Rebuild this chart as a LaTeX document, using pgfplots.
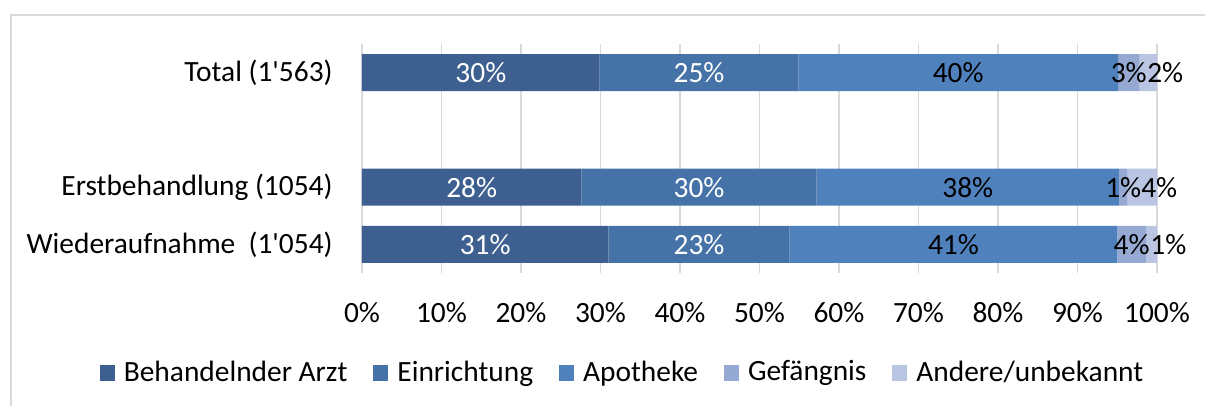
\documentclass[border=0pt]{standalone}
\usepackage{fontspec}
\setmainfont{Carlito}
\usepackage{pgfplots}
\pgfplotsset{compat=1.18}
\definecolor{cA}{HTML}{3D6090}
\definecolor{cB}{HTML}{4573A7}
\definecolor{cC}{HTML}{4F81BD}
\definecolor{cD}{HTML}{95A9D2}
\definecolor{cE}{HTML}{B9C5E3}
\definecolor{gridgray}{HTML}{D9D9D9}
\begin{document}
\fontsize{14.7}{17.6}\selectfont
\begin{tikzpicture}
\useasboundingbox (-181pt,-66.5pt) rectangle (421.5pt,136.5pt);
\draw[gridgray, line width=0.8pt] (-175.5pt,-70pt) -- (-175.5pt,129pt) -- (430pt,129pt);
\begin{axis}[
  at={(0,0)}, anchor=south west,
  scale only axis, width=397.5pt, height=114.5pt,
  xbar stacked, bar width=18.5pt,
  xmin=0, xmax=100, ymin=-0.5, ymax=3.5,
  xtick={0,10,...,100}, ytick={0,1,3},
  yticklabels={Wiederaufnahme\ \ (1\textquotesingle054), Erstbehandlung (1054), Total (1\textquotesingle563)},
  xticklabel={\pgfmathprintnumber{\tick}\%},
  /pgf/number format/assume math mode=true,
  xticklabel style={inner sep=0pt, anchor=north, yshift=-14.5pt},
  yticklabel style={inner sep=0pt, anchor=east, xshift=-14.5pt},
  major tick length=0pt,
  axis line style={draw=none},
  xmajorgrids, grid style={gridgray, line width=0.8pt},
  nodes near coords={\pgfmathprintnumber[fixed,precision=0]{\pgfplotspointmeta}\%},
  every node near coord/.append style={inner sep=0pt},
  legend style={at={(0.329,-0.4367)}, anchor=center, draw=none, fill=none,
    legend columns=5,
    /tikz/every odd column/.append style={column sep=2.5pt},
    /tikz/every even column/.append style={column sep=11pt}},
  legend image code/.code={\fill[#1] (0pt,-3.75pt) rectangle (7.5pt,4pt);},
  clip=false,
]
\addplot[fill=cA, draw=none, every node near coord/.append style={white}] coordinates {(31.0,0) (27.6,1) (29.9,3)};
\addplot[fill=cB, draw=none, every node near coord/.append style={white}] coordinates {(22.8,0) (29.6,1) (25.0,3)};
\addplot[fill=cC, draw=none, every node near coord/.append style={black}] coordinates {(41.2,0) (38.0,1) (40.2,3)};
\addplot[fill=cD, draw=none, every node near coord/.append style={black}] coordinates {(3.6,0) (1.1,1) (2.7,3)};
\addplot[fill=cE, draw=none, every node near coord/.append style={black, xshift=8.5pt}] coordinates {(1.4,0) (3.7,1) (2.2,3)};
\legend{Behandelnder Arzt, Einrichtung, Apotheke, Gefängnis, Andere/unbekannt}
\end{axis}
\end{tikzpicture}
\end{document}
